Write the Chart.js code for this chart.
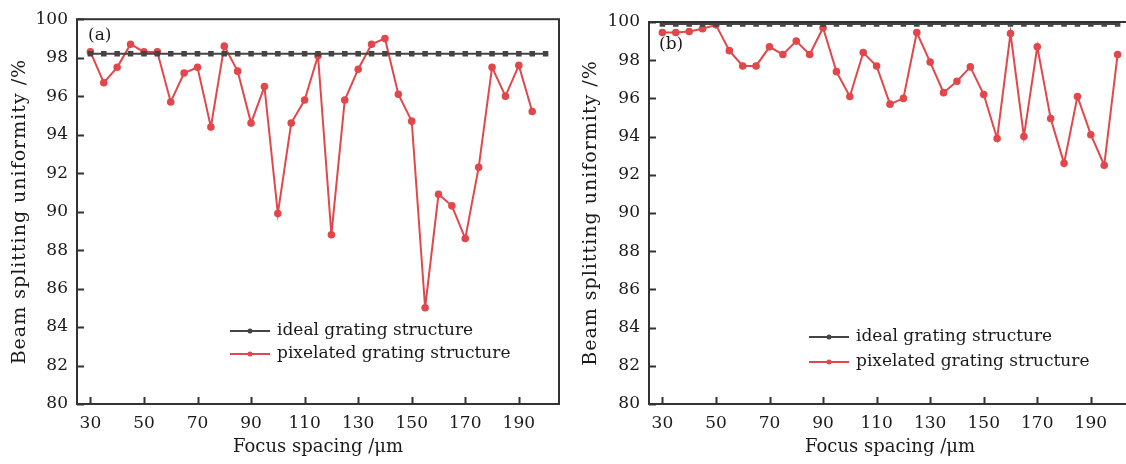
<!DOCTYPE html>
<html>
<head>
<meta charset="utf-8">
<script src="https://cdn.jsdelivr.net/npm/chart.js"></script>
<style>
  html, body { margin: 0; padding: 0; background: #fff; overflow: hidden; }
  #wrap-a { position: absolute; left: 0; top: 0; width: 565px; height: 464px; }
  #wrap-b { position: absolute; left: 565px; top: 0; width: 580px; height: 464px; }
</style>
</head>
<body>
<div id="wrap-a"><canvas id="chart-a"></canvas></div>
<div id="wrap-b"><canvas id="chart-b"></canvas></div>
<script>
var spacing = [30, 35, 40, 45, 50, 55, 60, 65, 70, 75, 80, 85, 90, 95, 100, 105, 110, 115,
  120, 125, 130, 135, 140, 145, 150, 155, 160, 165, 170, 175, 180, 185, 190, 195, 200];
var xTicks = [30, 50, 70, 90, 110, 130, 150, 170, 190];
var yTicks = [80, 82, 84, 86, 88, 90, 92, 94, 96, 98, 100];

// (a)
var idealA = [98.2, 98.2, 98.2, 98.2, 98.2, 98.2, 98.2, 98.2, 98.2, 98.2, 98.2, 98.2,
  98.2, 98.2, 98.2, 98.2, 98.2, 98.2, 98.2, 98.2, 98.2, 98.2, 98.2, 98.2, 98.2, 98.2,
  98.2, 98.2, 98.2, 98.2, 98.2, 98.2, 98.2, 98.2, 98.2];
var pixelA = [98.3, 96.7, 97.5, 98.7, 98.3, 98.3, 95.7, 97.2, 97.5, 94.4, 98.6, 97.3,
  94.6, 96.5, 89.9, 94.6, 95.8, 98.1, 88.8, 95.8, 97.4, 98.7, 99.0, 96.1, 94.7, 85.0,
  90.9, 90.3, 88.6, 92.3, 97.5, 96.0, 97.6, 95.2];

// (b)
var idealB = [99.9, 99.9, 99.9, 99.9, 99.9, 99.9, 99.9, 99.9, 99.9, 99.9, 99.9, 99.9,
  99.9, 99.9, 99.9, 99.9, 99.9, 99.9, 99.9, 99.9, 99.9, 99.9, 99.9, 99.9, 99.9, 99.9,
  99.9, 99.9, 99.9, 99.9, 99.9, 99.9, 99.9, 99.9, 99.9];
var pixelB = [99.45, 99.45, 99.5, 99.65, 99.85, 98.5, 97.7, 97.7, 98.7, 98.3, 99.0, 98.3,
  99.7, 97.4, 96.1, 98.4, 97.7, 95.7, 96.0, 99.45, 97.9, 96.3, 96.9, 97.65, 96.2, 93.9,
  99.4, 94.0, 98.7, 94.95, 92.6, 96.1, 94.1, 92.5, 98.3];

var labels = ["ideal grating structure", "pixelated grating structure"];
var yTitle = "Beam splitting uniformity /%";
var red = "#e2474b";
var dark = "#444444";
var ink = "#1a1a1a";
var serif = "DejaVu Serif";

function pts(values) {
  return values.map(function (v, i) {
    return { x: spacing[i], y: v };
  });
}

// frame, inward ticks, y title, legend inside plot, panel label
var decor = {
  id: "decor",
  afterDraw: function (chart, args, opts) {
    var c = chart.ctx;
    var a = chart.chartArea;
    var xs = chart.scales.x;
    var ys = chart.scales.y;
    c.save();
    c.strokeStyle = "#333";
    c.lineWidth = 2;
    c.beginPath();
    xs.ticks.forEach(function (t) {
      var px = Math.round(xs.getPixelForValue(t.value)) + 0.5;
      c.moveTo(px, a.bottom);
      c.lineTo(px, a.bottom - 7);
    });
    ys.ticks.forEach(function (t) {
      var py = Math.round(ys.getPixelForValue(t.value)) + 0.5;
      c.moveTo(a.left, py);
      c.lineTo(a.left + 7, py);
    });
    c.stroke();
    c.strokeRect(a.left, a.top, a.right - a.left, a.bottom - a.top);

    // y axis title
    c.save();
    c.translate(opts.titleX, (a.top + a.bottom) / 2);
    c.rotate(-Math.PI / 2);
    c.font = "19px '" + serif + "'";
    c.letterSpacing = "1px";
    c.fillStyle = ink;
    c.textAlign = "center";
    c.textBaseline = "middle";
    c.fillText(yTitle, 0, 0);
    c.restore();

    // legend
    c.font = "17px '" + serif + "'";
    c.textBaseline = "middle";
    c.textAlign = "left";
    chart.data.datasets.forEach(function (ds, i) {
      var y = opts.legendY + i * opts.legendGap;
      c.strokeStyle = ds.borderColor;
      c.lineWidth = 2;
      c.beginPath();
      c.moveTo(opts.legendX, y);
      c.lineTo(opts.legendX + 40, y);
      c.stroke();
      c.fillStyle = ds.borderColor;
      c.beginPath();
      c.arc(opts.legendX + 20, y, 2.5, 0, Math.PI * 2);
      c.fill();
      c.fillStyle = ink;
      c.fillText(ds.label, opts.legendX + 47, y);
    });

    c.font = "17px '" + serif + "'";
    c.fillStyle = ink;
    c.fillText(opts.panel, opts.panelX, opts.panelY);
    c.restore();
  },
};

function makeChart(id, ideal, pixel, o) {
  return new Chart(document.getElementById(id), {
    type: "line",
    data: {
      datasets: [
        {
          label: labels[0],
          data: pts(ideal),
          borderColor: dark,
          backgroundColor: dark,
          borderWidth: 2,
          pointStyle: "rect",
          pointRadius: 2.5,
        },
        {
          label: labels[1],
          data: pts(pixel),
          borderColor: red,
          backgroundColor: red,
          borderWidth: 2,
          pointRadius: 2.8,
        },
      ],
    },
    options: {
      responsive: true,
      maintainAspectRatio: false,
      animation: false,
      layout: {
        padding: { top: o.top, right: o.right, left: 0, bottom: 0 },
      },
      plugins: {
        legend: { display: false },
        tooltip: { enabled: false },
        decor: o.decor,
      },
      scales: {
        x: {
          type: "linear",
          min: 25,
          max: 205,
          afterBuildTicks: function (scale) {
            scale.ticks = xTicks.map(function (v) { return { value: v }; });
          },
          afterFit: function (scale) {
            scale.height = 60;
          },
          grid: { display: false, drawTicks: false },
          border: { display: false },
          ticks: {
            padding: 9,
            color: ink,
            maxRotation: 0,
            font: { size: 17, family: serif },
          },
          title: {
            display: true,
            text: "Focus spacing /μm",
            color: ink,
            padding: { top: 0, bottom: 6 },
            font: { size: 18, family: serif },
          },
        },
        y: {
          min: 80,
          max: 100,
          afterBuildTicks: function (scale) {
            scale.ticks = yTicks.map(function (v) { return { value: v }; });
          },
          afterFit: function (scale) {
            scale.width = o.yWidth;
          },
          grid: { display: false, drawTicks: false },
          border: { display: false },
          ticks: {
            padding: 9,
            color: ink,
            font: { size: 17, family: serif },
          },
        },
      },
    },
    plugins: [decor],
  });
}

makeChart("chart-a", idealA, pixelA, {
  top: 15,
  right: 5,
  yWidth: 77,
  decor: { titleX: 20, legendX: 230, legendY: 331, legendGap: 23, panel: "(a)", panelX: 88, panelY: 36 },
});

makeChart("chart-b", idealB, pixelB, {
  top: 22,
  right: 14,
  yWidth: 84,
  decor: { titleX: 26, legendX: 244, legendY: 337, legendGap: 25, panel: "(b)", panelX: 94, panelY: 45 },
});
</script>
</body>
</html>
